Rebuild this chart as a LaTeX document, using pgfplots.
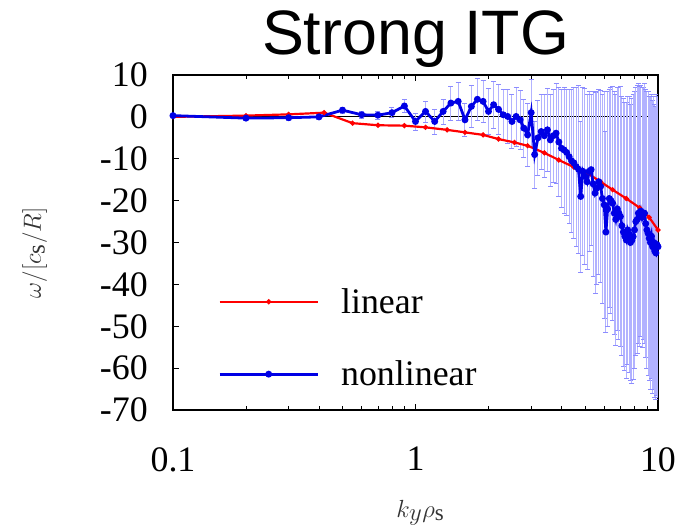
\documentclass[border=0pt]{standalone}
\usepackage{pgfplots}
\pgfplotsset{compat=1.18}
\usepackage{pgfplotstable}
\usepackage{fontspec}
\setmainfont{Liberation Serif}
\newfontfamily\titlefont{Liberation Sans}

\pgfplotstableread{
k v e
0.1 0.3 0.5
0.2 -0.3 0.5
0.3 -0.2 0.6
0.4 0.0 0.6
0.5 1.6 0.8
0.6 0.5 0.8
0.7 0.4 1.0
0.8 1.0 1.2
0.9 2.6 1.5
1.0 -1.1 2.0
1.1 1.3 2.5
1.2 -1.1 3.0
1.3 1.3 3.0
1.4 3.3 4.0
1.5 3.7 4.5
1.6 -0.7 4.0
1.7 2.5 5.0
1.8 4.2 5.0
1.9 3.7 5.0
2.0 1.3 5.5
2.1 2.9 5.5
2.2 1.8 6.0
2.3 0.5 6.0
2.4 0.1 6.5
2.5 -1.1 6.5
2.6 0.1 7.0
2.7 -0.7 7.0
2.8 -2.7 7.0
2.9 -4.3 7.5
3.0 1.0 8.0
3.1 -9.0 8.0
3.2 -5.0 9.0
3.3 -3.5 9.0
3.4 -4.5 10.0
3.5 -3.1 10.0
3.6 -5.5 11.0
3.7 -4.5 11.0
3.8 -3.9 12.0
3.9 -6.0 13.0
4.0 -7.5 14.0
4.1 -7.9 15.0
4.2 -8.5 15.0
4.3 -9.5 16.0
4.4 -10.5 17.0
4.5 -11.0 18.0
4.6 -11.9 19.0
4.7 -12.5 20.0
4.8 -19.0 18.0
4.9 -13.0 20.0
5.0 -14.2 21.0
5.1 -15.5 21.0
5.2 -13.0 19.0
5.3 -12.6 18.0
5.4 -16.0 22.0
5.5 -18.2 24.0
5.6 -17.0 23.0
5.7 -15.5 22.0
5.8 -16.6 23.0
5.9 -19.5 25.0
6.0 -21.0 27.0
6.1 -27.5 24.0
6.2 -22.0 28.0
6.3 -19.5 26.0
6.4 -20.0 27.0
6.5 -20.6 28.0
6.6 -23.0 29.0
6.7 -24.5 30.0
6.8 -22.0 29.0
6.9 -23.0 30.0
7.0 -23.8 31.0
7.1 -26.0 31.0
7.2 -27.5 32.0
7.3 -28.5 32.0
7.4 -29.4 33.0
7.5 -27.0 32.0
7.6 -28.0 33.0
7.7 -30.0 33.0
7.8 -29.5 34.0
7.9 -28.6 34.0
8.0 -27.0 33.0
8.1 -25.0 32.0
8.2 -24.5 32.0
8.3 -23.0 31.0
8.4 -23.8 31.0
8.5 -22.5 30.0
8.6 -24.0 31.0
8.7 -23.0 30.0
8.8 -23.0 31.0
8.9 -25.5 32.0
9.0 -27.0 33.0
9.1 -27.8 34.0
9.2 -29.0 34.0
9.3 -30.0 35.0
9.4 -28.5 34.0
9.5 -31.0 35.0
9.6 -30.0 35.0
9.7 -32.0 35.0
9.8 -32.5 35.0
9.9 -30.5 36.0
10.0 -31.0 36.0
}\nonlinear

\pgfplotstableread{
k v
0.1 0.0
0.2 0.3
0.3 0.6
0.42 1.0
0.55 -1.5
0.7 -2.0
0.9 -2.1
1.1 -2.5
1.35 -3.1
1.6 -3.7
1.9 -4.3
2.2 -5.3
2.56 -6.1
2.9 -6.9
3.4 -8.6
3.9 -10.3
4.5 -12.0
5.1 -13.4
5.8 -15.5
6.5 -17.4
7.4 -19.5
8.4 -21.7
9.2 -24.0
10.0 -27.0
}\linear

\begin{document}
\begin{tikzpicture}
\begin{axis}[
  name=ax,
  xmode=log,
  scale only axis,
  width=485bp, height=335bp,
  xmin=0.1, xmax=10,
  ymin=-70, ymax=10,
  ytick={-70,-60,...,10},
  xtick={0.1,1,10},
  xticklabels={0.1,1,10},
  /pgf/number format/assume math mode=true,
  tick label style={font=\fontsize{36}{40}\selectfont},
  yticklabel style={inner sep=0pt, anchor=east, xshift=-25bp},
  xticklabel style={inner sep=0pt, anchor=north, yshift=-37bp},
  major tick length=6bp,
  minor tick length=4bp,
  tick style={black, line width=0.8pt},
  axis line style={line width=1.2pt},
  title={\titlefont\fontsize{63}{70}\selectfont Strong ITG},
  title style={at={(0.5,1)}, anchor=base, yshift=15bp, inner sep=0pt},
  xlabel={$k_y\rho_{\rm s}$},
  ylabel={$\omega/[c_{\rm s}/R]$},
  xlabel style={at={(axis description cs:0.51,-0.307)}, anchor=center, font=\fontsize{33}{36}\selectfont, color=black!80},
  ylabel style={at={(axis description cs:-0.285,0.469)}, anchor=center, rotate=0, font=\fontsize{36}{40}\selectfont, color=black!80},
  legend style={draw=none, fill=none, at={(0.093,0.215)}, anchor=west, inner sep=0pt,
    font=\fontsize{36}{40}\selectfont, row sep=46bp,
    nodes={inner sep=0pt},
    /tikz/every odd column/.append style={column sep=22bp}},
  legend cell align=left,
  legend image code/.code={\draw[mark repeat=2,mark phase=2,#1] plot coordinates {(0bp,0bp) (49bp,0bp) (98bp,0bp)};},
]
\addplot[black, line width=0.8pt, forget plot] coordinates {(0.1,0) (10,0)};
\addplot[draw=none, mark=none, forget plot,
  error bars/.cd, y dir=both, y explicit,
  error bar style={draw=blue!30, line width=1pt},
  error mark options={rotate=90, draw=blue!45, mark size=2.5bp, line width=0.5pt}]
  table[x=k, y=v, y error=e] {\nonlinear};
\addplot[red, line width=2.2pt, mark=*, mark size=1.3bp] table[x=k, y=v] {\linear};
\addlegendentry{linear}
\addplot[blue!90!black, line width=2.8pt, mark=*, mark size=2bp] table[x=k, y=v] {\nonlinear};
\addlegendentry{nonlinear}
\end{axis}
\pgfresetboundingbox
\path ([xshift=-173bp,yshift=-119bp]ax.south west) rectangle ([xshift=26bp,yshift=75bp]ax.north east);
\end{tikzpicture}
\end{document}
